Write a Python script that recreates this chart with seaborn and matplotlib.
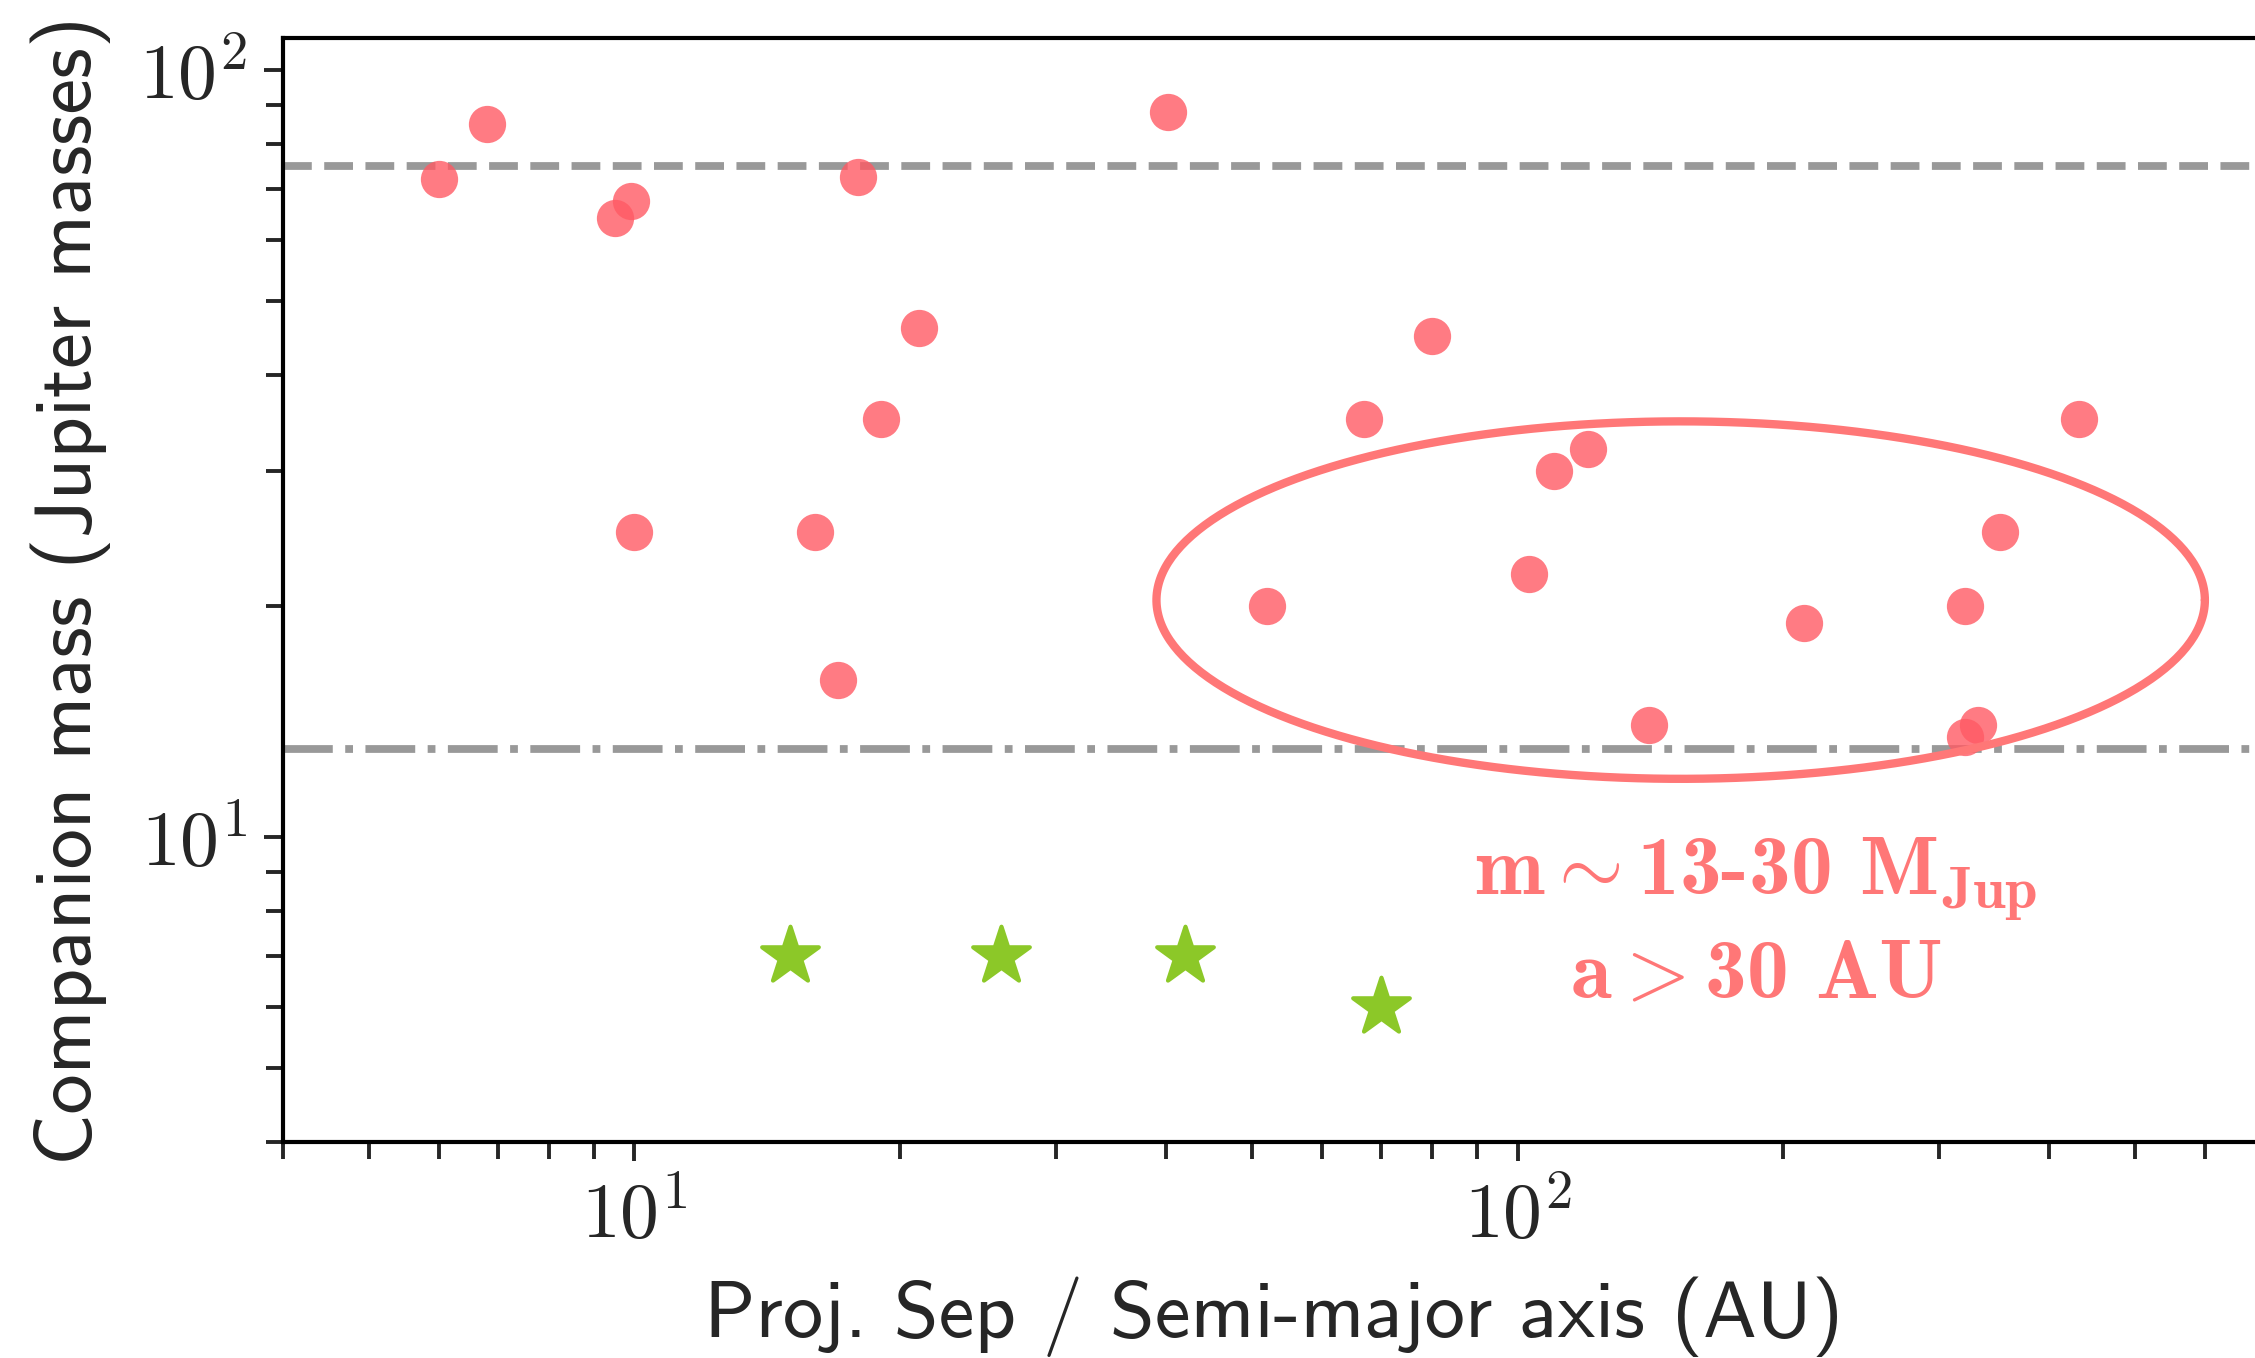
import numpy as np
import pandas as pd
import matplotlib
matplotlib.use("Agg")
import matplotlib.pyplot as plt
from matplotlib.ticker import FixedLocator, FuncFormatter, NullFormatter, LogLocator
import seaborn as sns

# Brown-dwarf companions: separation (AU) and mass (M_Jup)
bd_sep = [6.0, 6.8, 9.5, 9.9, 10.0, 17.9, 16.0, 17.0, 19.0, 21.0, 40.2, 52.0,
          67.0, 80.0, 103.0, 110.0, 120.0, 141.0, 211.0, 321.0, 332.0, 321.0,
          352.0, 432.0]
bd_mass = [72.0, 85.0, 64.0, 67.5, 25.0, 72.5, 25.0, 16.0, 35.0, 46.0, 88.0, 20.0,
           35.0, 45.0, 22.0, 30.0, 32.0, 14.0, 19.0, 20.0, 14.0, 13.5,
           25.0, 35.0]

# Planetary-mass companions
pl_sep = [15.0, 26.0, 42.0, 70.0]
pl_mass = [7.0, 7.0, 7.0, 6.0]

# Reference mass limits (M_Jup)
hydrogen_limit = 75.0
deuterium_limit = 13.0

# Highlighted region (log-space ellipse): separation span and mass span
region_sep = (39.0, 600.0)
region_mass = (11.9, 34.8)

RED = "#FF5A64"
PINK = "#FF7777"
GREEN = "#8CC828"
GREY = "#999999"

sns.set_style("ticks")
plt.rcParams["mathtext.fontset"] = "cm"

W, H, DPI = 2255, 1358, 200
fig = plt.figure(figsize=(W / DPI, H / DPI), dpi=DPI)
left, right, bottom, top = 283 / W, 2264 / W, 1 - 1142 / H, 1 - 38 / H
ax = fig.add_axes([left, bottom, right - left, top - bottom])

df_bd = pd.DataFrame({"sep": bd_sep, "mass": bd_mass})
df_pl = pd.DataFrame({"sep": pl_sep, "mass": pl_mass})

ax.set_xscale("log")
ax.set_yscale("log")

ax.axhline(hydrogen_limit, color=GREY, lw=2.8, ls="--", zorder=1)
ax.axhline(deuterium_limit, color=GREY, lw=2.8, ls="-.", zorder=1)

sns.scatterplot(data=df_bd, x="sep", y="mass", ax=ax, color=RED, alpha=0.8,
                s=180, linewidth=0, zorder=3)
sns.scatterplot(data=df_pl, x="sep", y="mass", ax=ax, color=GREEN, marker="*",
                s=460, linewidth=1.5, edgecolor=GREEN, zorder=3)

# Ellipse drawn in log space so it stays an ellipse on log axes
lx = np.log10(region_sep)
ly = np.log10(region_mass)
t = np.linspace(0, 2 * np.pi, 400)
ex = 10 ** (lx.mean() + (lx[1] - lx[0]) / 2 * np.cos(t))
ey = 10 ** (ly.mean() + (ly[1] - ly[0]) / 2 * np.sin(t))
ax.plot(ex, ey, color=PINK, lw=3.0, zorder=4)

note_kw = dict(color=PINK, fontsize=30, ha="center", va="center", fontfamily="cmb10")
ax.text(186, 8.8, r"m${\sim}$13-30 M$_{\mathbf{Jup}}$", **note_kw)
ax.text(186, 6.55, r"a${>}$30 AU", **note_kw)

ax.set_xlim(4, 700)
ax.set_ylim(4, 110)

def pow_fmt(v, pos):
    e = int(round(np.log10(v)))
    return r"$10^{%d}$" % e

for axis in (ax.xaxis, ax.yaxis):
    axis.set_major_locator(FixedLocator([10, 100]))
    axis.set_major_formatter(FuncFormatter(pow_fmt))
    axis.set_minor_locator(LogLocator(base=10, subs=np.arange(2, 10)))
    axis.set_minor_formatter(NullFormatter())

ax.tick_params(which="major", length=7, width=1.4, labelsize=28, pad=6, direction="out")
ax.tick_params(which="minor", length=6, width=1.4, direction="out")
for sp in ax.spines.values():
    sp.set_linewidth(1.5)
    sp.set_color("black")

ax.set_xlabel("Proj. Sep / Semi-major axis (AU)", fontfamily="cmss10", fontsize=29, labelpad=8)
ax.set_ylabel("Companion mass (Jupiter masses)", fontfamily="cmss10", fontsize=29, labelpad=10)

fig.savefig("out.png", dpi=DPI)
